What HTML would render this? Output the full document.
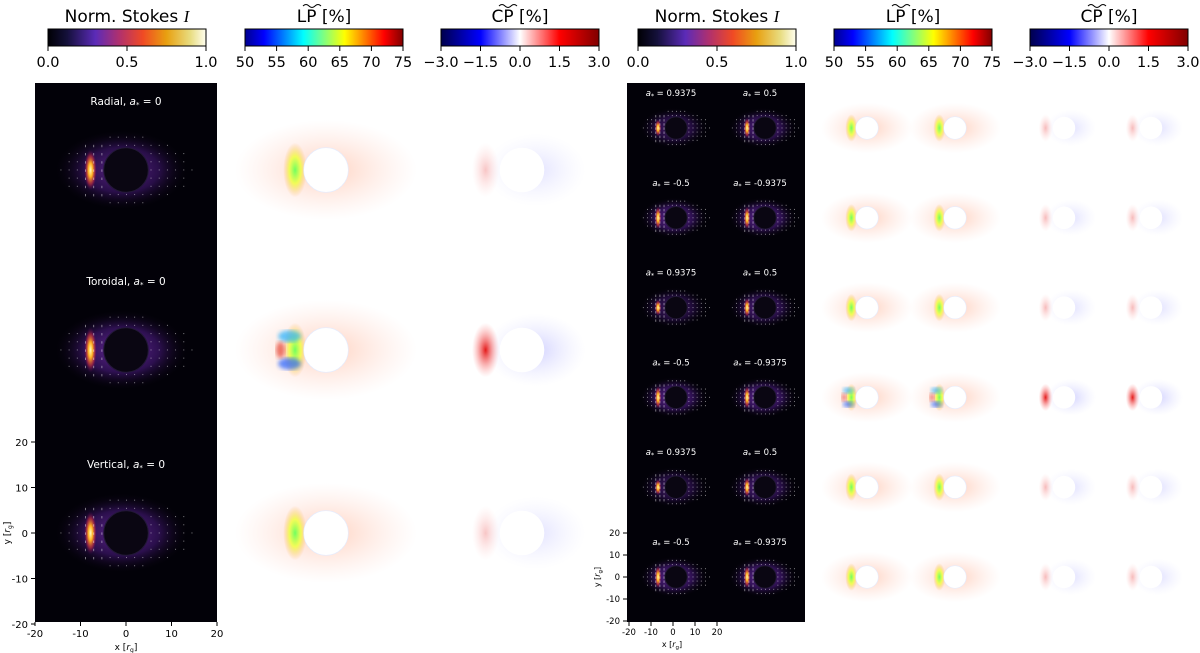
<!DOCTYPE html>
<html><head><meta charset="utf-8"><style>
html,body{margin:0;padding:0;background:#fff;width:1200px;height:653px;overflow:hidden;font-family:"Liberation Sans","DejaVu Sans",sans-serif}
svg text{font-family:"DejaVu Sans","Liberation Sans",sans-serif}
</style></head><body>
<svg id="fig" width="1200" height="653" viewBox="0 0 1200 653" xmlns="http://www.w3.org/2000/svg">
<defs>
<linearGradient id="gInf" x1="0" x2="1"><stop offset="0" stop-color="#000004"/><stop offset="0.12" stop-color="#14103a"/><stop offset="0.3" stop-color="#5b2bb8"/><stop offset="0.45" stop-color="#b0306e"/><stop offset="0.6" stop-color="#f04a24"/><stop offset="0.75" stop-color="#e8a010"/><stop offset="0.9" stop-color="#e8dc80"/><stop offset="1" stop-color="#fffff0"/></linearGradient>
<linearGradient id="gJet" x1="0" x2="1"><stop offset="0" stop-color="#00008f"/><stop offset="0.12" stop-color="#0000ff"/><stop offset="0.37" stop-color="#00ffff"/><stop offset="0.5" stop-color="#80ff80"/><stop offset="0.63" stop-color="#ffff00"/><stop offset="0.88" stop-color="#ff0000"/><stop offset="1" stop-color="#800000"/></linearGradient>
<linearGradient id="gSei" x1="0" x2="1"><stop offset="0" stop-color="#00004c"/><stop offset="0.25" stop-color="#0000ff"/><stop offset="0.5" stop-color="#ffffff"/><stop offset="0.75" stop-color="#ff0000"/><stop offset="1" stop-color="#800000"/></linearGradient>
<radialGradient id="glow"><stop offset="0" stop-color="#7a30b0" stop-opacity="0.9"/><stop offset="0.55" stop-color="#4a1a80" stop-opacity="0.6"/><stop offset="1" stop-color="#000" stop-opacity="0"/></radialGradient>
<radialGradient id="hot"><stop offset="0" stop-color="#ffffc0"/><stop offset="0.35" stop-color="#ffb020"/><stop offset="0.7" stop-color="#d03040" stop-opacity="0.6"/><stop offset="1" stop-color="#500060" stop-opacity="0"/></radialGradient>
<radialGradient id="lpHalo"><stop offset="0" stop-color="#ff9a70" stop-opacity="0.45"/><stop offset="1" stop-color="#ffc0b0" stop-opacity="0"/></radialGradient>
<radialGradient id="lpGreen"><stop offset="0" stop-color="#70ff60"/><stop offset="0.5" stop-color="#f0ff40" stop-opacity="0.85"/><stop offset="1" stop-color="#ffb060" stop-opacity="0"/></radialGradient>
<radialGradient id="cpRed"><stop offset="0" stop-color="#e00000" stop-opacity="0.9"/><stop offset="1" stop-color="#ff8080" stop-opacity="0"/></radialGradient>
<radialGradient id="cpBlue"><stop offset="0" stop-color="#8080ff" stop-opacity="0.35"/><stop offset="1" stop-color="#c0c0ff" stop-opacity="0"/></radialGradient>
<filter id="blur2"><feGaussianBlur stdDeviation="2"/></filter>
</defs>
</svg>
<script>
const NS='http://www.w3.org/2000/svg';
const svg=document.getElementById('fig');
// data
const cbTitles=['Norm','LP [%]','CP [%]','Norm','LP [%]','CP [%]'];
const cbTickI=['0.0','0.5','1.0'];
const cbTickLP=['50','55','60','65','70','75'];
const cbTickCP=['\u22123.0','\u22121.5','0.0','1.5','3.0'];
const leftLabels=['Radial, a* = 0','Toroidal, a* = 0','Vertical, a* = 0'];
const rightSpins=['0.9375','0.5','-0.5','-0.9375','0.9375','0.5','-0.5','-0.9375','0.9375','0.5','-0.5','-0.9375'];
const hotStrength=[0.5,0.8,1,1,0.4,0.7,1,1,0.4,0.7,1,1];
const axisTicksY=['20','10','0','-10','-20'];
const axisTicksX=['-20','-10','0','10','20'];
const axisVals=[20,10,0,-10,-20];

function el(tag,attrs,parent){const e=document.createElementNS(NS,tag);for(const k in attrs)e.setAttribute(k,attrs[k]);(parent||svg).appendChild(e);return e;}
function txt(x,y,s,size,fill,anchor,parent){const t=el('text',{x:x,y:y,'font-size':size,fill:fill||'#000','text-anchor':anchor||'middle'},parent);t.textContent=s;return t;}

const cbX=[48,245,441,638,834,1030];
const cbGrad=['gInf','gJet','gSei','gInf','gJet','gSei'];
const cbTicks=[cbTickI,cbTickLP,cbTickCP,cbTickI,cbTickLP,cbTickCP];
cbX.forEach((x,i)=>{
  const g=el('g',{});
  
  
  const title=cbTitles[i];
  if(title==='Norm'){
    const t=el('text',{x:x+79,y:22,'font-size':17,'text-anchor':'middle'},g);
    t.innerHTML='Norm. Stokes <tspan font-style="italic" font-family="Liberation Serif, serif">I</tspan>';
  } else {
    txt(x+79,22,title,17,'#000','middle',g);
    el('path',{d:`M${x+58} 6 q3 -3 6 0 t6 0 t6 0`,stroke:'#000',fill:'none','stroke-width':1},g);
  }
  el('rect',{x:x,y:29,width:158,height:17,fill:'url(#'+cbGrad[i]+')',stroke:'#000','stroke-width':1},g);
  const tk=cbTicks[i];
  tk.forEach((s,j)=>{const tx=x+158*j/(tk.length-1);el('line',{x1:tx,y1:46,x2:tx,y2:51,stroke:'#000'},g);txt(tx,67,s,14.5,'#000','middle',g);});
});

const R_BH=4.9;
function intensityCell(g,cx,cy,s,strength,dots){
  el('ellipse',{cx:cx-1*s,cy:cy,rx:15*s,ry:9*s,fill:'url(#glow)',opacity:0.45+0.55*strength},g);
  el('circle',{cx:cx,cy:cy,r:R_BH*s,fill:'#0a0612',stroke:'#231838','stroke-width':1},g);
  el('ellipse',{cx:cx-7.8*s,cy:cy,rx:1.4*s,ry:(2.5+2.5*strength)*s,fill:'url(#hot)'},g);
  if(dots){for(let i=-8;i<=8;i++)for(let j=-4;j<=4;j++){const dx=cx+i*1.8*s,dy=cy+j*1.8*s;if(Math.hypot(dx-cx,dy-cy)<R_BH*s+1)continue;if((i*i)/64+(j*j)/18>1)continue;el('rect',{x:dx,y:dy-0.6,width:0.9,height:(i>-6&&i<-2)?2.4:1.1,fill:'#fff',opacity:0.5},g);}}
}
function lpCell(g,cx,cy,s,kind){
  el('ellipse',{cx:cx,cy:cy,rx:20*s,ry:11*s,fill:'url(#lpHalo)'},g);
  el('ellipse',{cx:cx-6.8*s,cy:cy,rx:2.6*s,ry:6*s,fill:'url(#lpGreen)'},g);
  if(kind==='tor'){el('ellipse',{cx:cx-8*s,cy:cy-3*s,rx:2.5*s,ry:1.3*s,fill:'#20b0ff',opacity:0.7,filter:'url(#blur2)'},g);el('ellipse',{cx:cx-8*s,cy:cy+3*s,rx:2.5*s,ry:1.3*s,fill:'#2060ff',opacity:0.7,filter:'url(#blur2)'},g);el('ellipse',{cx:cx-10*s,cy:cy,rx:1*s,ry:1.8*s,fill:'#e02010',opacity:0.6,filter:'url(#blur2)'},g);}
  el('circle',{cx:cx,cy:cy,r:R_BH*s,fill:'#fff',stroke:'#e4ecff','stroke-width':0.6},g);
}
function cpCell(g,cx,cy,s,str){
  el('ellipse',{cx:cx-8*s,cy:cy,rx:3*s,ry:6*s,fill:'url(#cpRed)',opacity:str},g);
  el('ellipse',{cx:cx+3*s,cy:cy,rx:11*s,ry:8*s,fill:'url(#cpBlue)',opacity:Math.min(1,0.4+str)},g);
  el('circle',{cx:cx,cy:cy,r:R_BH*s,fill:'#fff'},g);
}

const L=el('g',{});
el('rect',{x:35,y:83,width:182,height:539,fill:'#020108'},L);
const lCy=[170,350,533];
const lKinds=['rad','tor','ver'];
const lStr=[0.8,1,0.9];
leftLabels.forEach((lab,i)=>{
  const g=el('g',{},L);
  
  
  const cy=lCy[i], s=4.55;
  intensityCell(g,126,cy,s,lStr[i],true);
  const parts=lab.split('a*');
  const t=el('text',{x:126,y:cy-65,'font-size':10.5,fill:'#fff','text-anchor':'middle'},g);
  t.innerHTML=parts[0]+'<tspan font-style="italic">a</tspan><tspan font-size="7" dy="2">*</tspan><tspan dy="-2">'+parts[1]+'</tspan>';
  lpCell(g,326,cy,s,lKinds[i]==='tor'?'tor':'');
  cpCell(g,522,cy,s,lKinds[i]==='tor'?1:0.25);
});
const la=el('g',{});
const yS=v=>533-v*4.55, xS=v=>126+v*4.55;
axisVals.forEach((v,i)=>{el('line',{x1:31,x2:35,y1:yS(v),y2:yS(v),stroke:'#000'},la);txt(28,yS(v)+4,axisTicksY[i],10,'#000','end',la);});
axisVals.slice().reverse().forEach((v,i)=>{el('line',{x1:xS(v),x2:xS(v),y1:622,y2:626,stroke:'#000'},la);txt(xS(v),637,axisTicksX[i],10,'#000','middle',la);});
const xl=txt(126,650,'',9,'#000','middle',la);xl.innerHTML='x [<tspan font-style="italic">r</tspan><tspan font-size="6" dy="2">g</tspan><tspan dy="-2">]</tspan>';
const yl=txt(0,0,'',9,'#000','middle',la);yl.setAttribute('transform','translate(10,533) rotate(-90)');yl.innerHTML='y [<tspan font-style="italic">r</tspan><tspan font-size="6" dy="2">g</tspan><tspan dy="-2">]</tspan>';

const R=el('g',{});
el('rect',{x:627,y:83,width:178,height:539,fill:'#020108'},R);
const rowCy=r=>128+r*89.8;
rightSpins.forEach((sp,k)=>{
  const r=Math.floor(k/2), c=k%2, cy=rowCy(r), s=2.3;
  const g=el('g',{},R);
  
  
  intensityCell(g,676+c*89,cy,s,hotStrength[k],true);
  const t=el('text',{x:671+c*89,y:cy-32,'font-size':8.5,fill:'#fff','text-anchor':'middle'},g);
  t.innerHTML='<tspan font-style="italic">a</tspan><tspan font-size="6" dy="2">*</tspan><tspan dy="-2"> = '+sp+'</tspan>';
  lpCell(g,867+c*88,cy,s,r===3?'tor':'');
  cpCell(g,1064+c*87,cy,s,r===3?1:0.3);
});
const ra=el('g',{});
const ryS=v=>577-v*2.2, rxS=v=>673+v*2.2;
axisVals.forEach((v,i)=>{el('line',{x1:623,x2:627,y1:ryS(v),y2:ryS(v),stroke:'#000'},ra);txt(620,ryS(v)+3,axisTicksY[i],8.5,'#000','end',ra);});
axisVals.slice().reverse().forEach((v,i)=>{el('line',{x1:rxS(v),x2:rxS(v),y1:622,y2:626,stroke:'#000'},ra);txt(rxS(v),635,axisTicksX[i],8.5,'#000','middle',ra);});
const rxl=txt(672,647,'',8,'#000','middle',ra);rxl.innerHTML='x [<tspan font-style="italic">r</tspan><tspan font-size="5.5" dy="2">g</tspan><tspan dy="-2">]</tspan>';
const ryl=txt(0,0,'',8,'#000','middle',ra);ryl.setAttribute('transform','translate(600,577) rotate(-90)');ryl.innerHTML='y [<tspan font-style="italic">r</tspan><tspan font-size="5.5" dy="2">g</tspan><tspan dy="-2">]</tspan>';
</script>
</body></html>
